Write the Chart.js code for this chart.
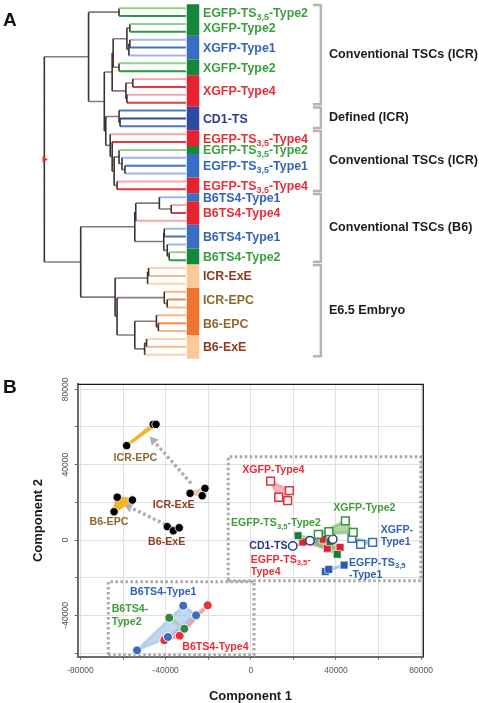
<!DOCTYPE html>
<html>
<head>
<meta charset="utf-8">
<script src="https://cdn.jsdelivr.net/npm/chart.js@4.4.0/dist/chart.umd.min.js"></script>
<style>
  html, body { margin: 0; padding: 0; background: #fff; }
  #wrap { position: relative; width: 479px; height: 703px; overflow: hidden; }
  #tree { position: absolute; left: 0; top: 0; }
  #pca { position: absolute; left: 0; top: 370px; }
</style>
</head>
<body>
<div id="wrap">
  <canvas id="tree" width="479" height="370"></canvas>
  <canvas id="pca" width="479" height="333"></canvas>
</div>
<script>
// ---------- panel A: clustering tree ----------
const groupNames = ['EGFP-TS{3,5}-Type2', 'XGFP-Type2', 'XGFP-Type1', 'XGFP-Type2', 'XGFP-Type4', 'CD1-TS',
  'EGFP-TS{3,5}-Type4', 'EGFP-TS{3,5}-Type2', 'EGFP-TS{3,5}-Type1', 'EGFP-TS{3,5}-Type4',
  'B6TS4-Type1', 'B6TS4-Type4', 'B6TS4-Type1', 'B6TS4-Type2', 'ICR-ExE', 'ICR-EPC', 'B6-EPC', 'B6-ExE'];
const groupSizes = [2, 2, 3, 2, 4, 3, 2, 1, 3, 2, 1, 3, 3, 2, 3, 3, 3, 3];
const groupKinds = ['t2', 't2', 't1', 't2', 't4', 'cd1', 't4', 't2', 't1', 't4', 't1', 't4', 't1', 't2', 'exe', 'epc', 'epc', 'exe'];

const bracketNames = ['Conventional TSCs (ICR)', 'Defined (ICR)', 'Conventional TSCs (ICR)', 'Conventional TSCs (B6)', 'E6.5 Embryo'];
const bracketSizes = [13, 3, 8, 9, 12];

// merges: [child, child, height]; numbers are leaves, 'mK' is merge K
const merges = [
  [0, 1, 6.8],          // m0
  [4, 5, 5.7],          // m1
  ['m1', 6, 5.8],       // m2
  [2, 3, 5.7],          // m3
  ['m3', 'm2', 6.0],    // m4
  [7, 8, 6.8],          // m5
  ['m4', 'm5', 7.4],    // m6
  [9, 10, 5.4],         // m7
  [11, 12, 6.0],        // m8
  ['m7', 'm8', 6.1],    // m9
  ['m6', 'm9', 7.5],    // m10
  [14, 15, 6.7],        // m11
  [13, 'm11', 6.8],     // m12
  [20, 21, 6.2],        // m13
  [19, 'm13', 6.5],     // m14
  [18, 'm14', 6.8],     // m15
  [22, 23, 7.0],        // m16
  ['m15', 'm16', 7.3],  // m17
  [17, 'm17', 7.5],     // m18
  [16, 'm18', 7.7],     // m19
  ['m12', 'm19', 8.15], // m20
  ['m10', 'm20', 8.3],  // m21
  ['m0', 'm21', 9.9],   // m22
  [25, 26, 1.5],        // m23
  [24, 'm23', 2.7],     // m24
  ['m24', 27, 5.1],     // m25
  [28, 29, 2.2],        // m26
  [31, 32, 1.7],        // m27
  [30, 'm27', 1.9],     // m28
  ['m26', 'm28', 2.25], // m29
  ['m25', 'm29', 5.2],  // m30
  [33, 34, 3.8],        // m31
  ['m31', 35, 3.9],     // m32
  [37, 38, 1.9],        // m33
  [36, 'm33', 2.2],     // m34
  [40, 41, 2.8],        // m35
  [39, 'm35', 3.0],     // m36
  [42, 43, 4.0],        // m37
  ['m37', 44, 4.2],     // m38
  ['m36', 'm38', 5.2],  // m39
  ['m34', 'm39', 7.0],  // m40
  ['m32', 'm40', 7.2],  // m41
  ['m30', 'm41', 10.7], // m42
  ['m22', 'm42', 14.4]  // m43 root
];

// ---------- panel B: PCA ----------
const icrEpcC1 = [-45800, -44500, -58300], icrEpcC2 = [61400, 61400, 50100];
const icrExeC1 = [-28500, -21500, -22800], icrExeC2 = [24800, 27400, 23500];
const b6EpcC1 = [-62700, -55600, -64200], b6EpcC2 = [22700, 21200, 15000];
const b6ExeC1 = [-39200, -36400, -33600], b6ExeC2 = [7100, 4900, 6500];
const xgfpT4C1 = [9300, 18100, 13100, 17300], xgfpT4C2 = [31300, 26200, 22700, 20900];
const xgfpT2C1 = [44400, 48100, 36700, 31700], xgfpT2C2 = [10200, 4100, 4400, 3000];
const xgfpT1C1 = [47500, 51600, 57200], xgfpT1C2 = [900, -2300, -1200];
const cd1C1 = [19700, 27800, 38500], cd1C2 = [-3200, -400, 400];
const egfpT2C1 = [22200, 37200, 40600], egfpT2C2 = [2300, -900, -7600];
const egfpT4C1 = [24400, 34000, 35900, 41900], egfpT4C2 = [-1100, 400, -4400, -3900];
const egfpT1C1 = [35000, 36600, 43800], egfpT1C2 = [-16800, -15600, -13300];
const b6t1C1 = [-31700, -25700, -38900, -53400], b6t1C2 = [-34900, -40000, -51500, -58600];
const b6t2C1 = [-38300, -31200], b6t2C2 = [-41300, -47100];
const b6t4C1 = [-20200, -33400, -40600], b6t4C2 = [-34700, -50800, -53200];

const tickStep = 20000, labelStep = 40000;
const arrowPairs = [['ICR-ExE', 'ICR-EPC'], ['B6-ExE', 'B6-EPC']];
// dotted frames: [x from, x to, y from, y to]
const frameRanges = [[-10600, 79800, -21600, 44200], [-66900, 1500, -61000, -22100]];

// ---------- styles ----------
const FONT = '"Liberation Sans", Arial, Helvetica, sans-serif';
Chart.defaults.font.family = FONT;

const kindStyle = {
  t2:  { bar: '#15873a', text: '#3c9f3f', tip: '#2e9943', light: '#93d08c' },
  t1:  { bar: '#3a6ec4', text: '#3565b5', tip: '#4676c0', light: '#9db9e3' },
  t4:  { bar: '#e8232f', text: '#e2303a', tip: '#de3c46', light: '#f5a9ad' },
  cd1: { bar: '#2f4aa3', text: '#2b3c92', tip: '#34479a', light: '#4b78c4' },
  exe: { bar: '#fbc898', text: '#8e3b1f', tip: '#f6b98f', light: '#fbd5b8' },
  epc: { bar: '#f07330', text: '#8c6a2e', tip: '#f08c4a', light: '#f7b888' }
};

function drawRich(ctx, text, x, y, size, align, color) {
  const parts = text.split(/(\{[^}]*\})/).filter(s => s);
  const big = 'bold ' + size + 'px ' + FONT;
  const small = 'bold ' + (size * 0.72) + 'px ' + FONT;
  let w = 0;
  parts.forEach(p => {
    const sub = p[0] === '{';
    ctx.font = sub ? small : big;
    w += ctx.measureText(sub ? p.slice(1, -1) : p).width;
  });
  let cx = align === 'center' ? x - w / 2 : x;
  ctx.fillStyle = color;
  ctx.textAlign = 'left';
  ctx.textBaseline = 'middle';
  parts.forEach(p => {
    const sub = p[0] === '{';
    const t = sub ? p.slice(1, -1) : p;
    ctx.font = sub ? small : big;
    ctx.fillText(t, cx, sub ? y + size * 0.32 : y);
    cx += ctx.measureText(t).width;
  });
}

// ---------- build tree ----------
const leafKind = [], leafPos = [];
const groupFirst = [];
let n = 0;
groupSizes.forEach((s, g) => {
  groupFirst.push(n);
  for (let i = 0; i < s; i++) { leafKind.push(groupKinds[g]); leafPos.push(i); n++; }
});
const nLeaves = n;

const nodeH = {}, nodeY = {};
const ref = c => typeof c === 'number' ? 'L' + c : c;
for (let i = 0; i < nLeaves; i++) { nodeH['L' + i] = 0; nodeY['L' + i] = i; }
merges.forEach((m, k) => {
  nodeH['m' + k] = m[2];
  nodeY['m' + k] = (nodeY[ref(m[0])] + nodeY[ref(m[1])]) / 2;
});

const segs = {};
function addSeg(color, w, x1, y1, x2, y2) {
  const key = color + '|' + w;
  (segs[key] = segs[key] || []).push({ x: x1, y: y1 }, { x: x2, y: y2 }, { x: null, y: null });
}
merges.forEach((m, k) => {
  const h = m[2];
  [m[0], m[1]].forEach(c => {
    const id = ref(c);
    if (typeof c === 'number') {
      const st = kindStyle[leafKind[c]];
      addSeg(leafPos[c] % 2 === 0 ? st.light : st.tip, 2, h, nodeY[id], 0, nodeY[id]);
    } else {
      addSeg('#8c7a76', 1.6, h, nodeY[id], nodeH[id], nodeY[id]);
    }
  });
  addSeg('#3b3232', 1.6, h, nodeY[ref(m[0])], h, nodeY[ref(m[1])]);
});
// colour bar
groupSizes.forEach((s, g) => {
  const f = groupFirst[g];
  addSeg(kindStyle[groupKinds[g]].bar, 12.5, -0.72, f - 0.5, -0.72, f + s - 0.5);
});

const treeSets = Object.keys(segs).map(key => {
  const [color, w] = key.split('|');
  return {
    data: segs[key], borderColor: color, borderWidth: +w, pointRadius: 0,
    borderCapStyle: 'butt', spanGaps: false, fill: false
  };
});
const rootId = 'm' + (merges.length - 1);
treeSets.unshift({
  data: [{ x: nodeH[rootId], y: nodeY[rootId] }], showLine: false,
  pointStyle: 'triangle', pointRotation: 90, pointRadius: 3.5,
  pointBackgroundColor: '#e53030', pointBorderWidth: 0
});

const treeLabels = {
  id: 'treeLabels',
  afterDraw(chart) {
    const ctx = chart.ctx, xs = chart.scales.x, ys = chart.scales.y;
    const base = xs.getPixelForValue(0);
    ctx.save();
    ctx.fillStyle = '#111';
    ctx.font = 'bold 19px ' + FONT;
    ctx.textBaseline = 'top';
    ctx.fillText('A', 3, 11);
    groupNames.forEach((name, g) => {
      const f = groupFirst[g], l = f + groupSizes[g] - 1;
      drawRich(ctx, name, base + 17, ys.getPixelForValue((f + l) / 2) + 1, 12.4, 'left', kindStyle[groupKinds[g]].text);
    });
    let f = 0;
    bracketNames.forEach((name, b) => {
      const l = f + bracketSizes[b] - 1;
      const y1 = ys.getPixelForValue(f - 0.4), y2 = ys.getPixelForValue(l + 0.2);
      ctx.strokeStyle = '#b4b4b4';
      ctx.lineWidth = 2.5;
      ctx.lineJoin = 'round';
      ctx.beginPath();
      ctx.moveTo(base + 127, y1); ctx.lineTo(base + 135, y1);
      ctx.lineTo(base + 135, y2); ctx.lineTo(base + 127, y2);
      ctx.stroke();
      drawRich(ctx, name, base + 143, (y1 + y2) / 2, 12.6, 'left', '#1c1c1c');
      f = l + 1;
    });
    ctx.restore();
  }
};

new Chart(document.getElementById('tree'), {
  type: 'line',
  data: { datasets: treeSets },
  options: {
    responsive: false, animation: false, events: [],
    layout: { padding: 0 },
    plugins: { legend: { display: false }, tooltip: { enabled: false } },
    scales: {
      x: { type: 'linear', display: false, reverse: true, min: -29.4, max: 18.5 },
      y: { type: 'linear', display: false, reverse: true, min: -0.534, max: 45.43 }
    }
  },
  plugins: [treeLabels]
});

// ---------- build PCA ----------
const pcaGroups = [
  { name: 'ICR-EPC', c1: icrEpcC1, c2: icrEpcC2 },
  { name: 'ICR-ExE', c1: icrExeC1, c2: icrExeC2 },
  { name: 'B6-EPC', c1: b6EpcC1, c2: b6EpcC2 },
  { name: 'B6-ExE', c1: b6ExeC1, c2: b6ExeC2 },
  { name: 'XGFP-Type4', c1: xgfpT4C1, c2: xgfpT4C2 },
  { name: 'XGFP-Type2', c1: xgfpT2C1, c2: xgfpT2C2 },
  { name: 'XGFP-Type1', c1: xgfpT1C1, c2: xgfpT1C2 },
  { name: 'CD1-TS', c1: cd1C1, c2: cd1C2 },
  { name: 'EGFP-TS3,5-Type2', c1: egfpT2C1, c2: egfpT2C2 },
  { name: 'EGFP-TS3,5-Type4', c1: egfpT4C1, c2: egfpT4C2 },
  { name: 'EGFP-TS3,5-Type1', c1: egfpT1C1, c2: egfpT1C2 },
  { name: 'B6TS4-Type1', c1: b6t1C1, c2: b6t1C2 },
  { name: 'B6TS4-Type2', c1: b6t2C1, c2: b6t2C2 },
  { name: 'B6TS4-Type4', c1: b6t4C1, c2: b6t4C2 }
];

const RED = '#e2303a', GREEN = '#3f9d3c', BLUE = '#2f63b3', DARK = '#27388c', BROWN = '#8e3b1f', OLIVE = '#8c6a2e';
const markStyle = {
  'ICR-EPC': { shape: 'circle', r: 4.2, fill: '#000', stroke: '#fff', bw: 0.8, hull: '#f5b325' },
  'ICR-ExE': { shape: 'circle', r: 4.2, fill: '#000', stroke: '#fff', bw: 0.8, hull: '#f3c3ae' },
  'B6-EPC': { shape: 'circle', r: 4.2, fill: '#000', stroke: '#fff', bw: 0.8, hull: '#f5b325' },
  'B6-ExE': { shape: 'circle', r: 4.2, fill: '#000', stroke: '#fff', bw: 0.8, hull: '#f3c3ae' },
  'XGFP-Type4': { shape: 'rect', r: 5.5, fill: '#fff', stroke: '#e3323c', bw: 1.5, hull: 'rgba(240,140,150,0.6)' },
  'XGFP-Type2': { shape: 'rect', r: 5.5, fill: '#fff', stroke: '#3a8f45', bw: 1.5, hull: 'rgba(120,190,110,0.6)' },
  'XGFP-Type1': { shape: 'rect', r: 5.5, fill: '#fff', stroke: '#3a6cc0', bw: 1.5, hull: 'rgba(140,175,225,0.6)' },
  'CD1-TS': { shape: 'circle', r: 4.2, fill: '#fff', stroke: '#2a3d8f', bw: 1.5, hull: 'rgba(120,140,200,0.3)' },
  'EGFP-TS3,5-Type2': { shape: 'rect', r: 5.5, fill: '#1e7a3a', stroke: '#fff', bw: 0.6, hull: 'rgba(120,190,110,0.6)' },
  'EGFP-TS3,5-Type4': { shape: 'rect', r: 5.5, fill: '#e02030', stroke: '#fff', bw: 0.6, hull: 'rgba(240,140,150,0.6)' },
  'EGFP-TS3,5-Type1': { shape: 'rect', r: 5.5, fill: '#2a5cb0', stroke: '#fff', bw: 0.6, hull: 'rgba(140,175,225,0.6)' },
  'B6TS4-Type1': { shape: 'circle', r: 4.5, fill: '#3a6cc0', stroke: '#fff', bw: 1, hull: 'rgba(170,198,232,0.7)' },
  'B6TS4-Type2': { shape: 'circle', r: 4.5, fill: '#2e8a3e', stroke: '#fff', bw: 1, hull: 'rgba(150,205,140,0.8)' },
  'B6TS4-Type4': { shape: 'circle', r: 4.5, fill: '#e8303a', stroke: '#fff', bw: 1, hull: 'rgba(240,150,160,0.8)' }
};

// text notes: [text, component 1, component 2, align, colour]
const pcaNotes = [
  ['ICR-EPC', -54200, 43700, 'center', OLIVE],
  ['ICR-ExE', -36200, 18600, 'center', BROWN],
  ['B6-EPC', -66600, 9400, 'center', OLIVE],
  ['B6-ExE', -39500, -1200, 'center', BROWN],
  ['XGFP-Type4', 10600, 37200, 'center', RED],
  ['XGFP-Type2', 53300, 16800, 'center', GREEN],
  ['EGFP-TS{3,5}-Type2', 11800, 8900, 'center', GREEN],
  ['XGFP-\nType1', 61000, 5300, 'left', BLUE],
  ['CD1-TS', -700, -3200, 'left', DARK],
  ['EGFP-TS{3,5}-\nType4', 0, -10600, 'left', RED],
  ['EGFP-TS{3,5}\n-Type1', 46100, -12100, 'left', BLUE],
  ['B6TS4-Type1', -41100, -27400, 'center', BLUE],
  ['B6TS4-\nType2', -65300, -36800, 'left', GREEN],
  ['B6TS4-Type4', -16600, -56600, 'center', RED]
];

function hull(pts) {
  const p = pts.slice().sort((a, b) => a.x - b.x || a.y - b.y);
  if (p.length < 3) return p;
  const cross = (o, a, b) => (a.x - o.x) * (b.y - o.y) - (a.y - o.y) * (b.x - o.x);
  const lo = [], up = [];
  for (const q of p) { while (lo.length >= 2 && cross(lo[lo.length - 2], lo[lo.length - 1], q) <= 0) lo.pop(); lo.push(q); }
  for (const q of p.slice().reverse()) { while (up.length >= 2 && cross(up[up.length - 2], up[up.length - 1], q) <= 0) up.pop(); up.push(q); }
  lo.pop(); up.pop();
  return lo.concat(up);
}
const centroid = g => ({
  x: g.c1.reduce((a, b) => a + b, 0) / g.c1.length,
  y: g.c2.reduce((a, b) => a + b, 0) / g.c2.length
});

const pcaSets = [];
pcaGroups.forEach(g => {
  const st = markStyle[g.name];
  const pts = g.c1.map((x, i) => ({ x: x, y: g.c2[i] }));
  pcaSets.push({
    data: pts, showLine: false, order: 0,
    pointStyle: st.shape, pointRadius: st.r,
    pointBackgroundColor: st.fill, pointBorderColor: st.stroke, pointBorderWidth: st.bw
  });
  const h = hull(pts);
  pcaSets.push({
    data: h.concat([h[0]]), order: 1, pointRadius: 0,
    fill: 'shape', backgroundColor: st.hull, borderColor: st.hull, borderWidth: 3,
    borderJoinStyle: 'round', tension: 0
  });
});
arrowPairs.forEach(([from, to]) => {
  const a = centroid(pcaGroups.find(g => g.name === from));
  const b = centroid(pcaGroups.find(g => g.name === to));
  const p1 = { x: a.x + (b.x - a.x) * 0.15, y: a.y + (b.y - a.y) * 0.15 };
  const p2 = { x: a.x + (b.x - a.x) * 0.85, y: a.y + (b.y - a.y) * 0.85 };
  pcaSets.push({
    data: [p1, p2], order: 2, borderColor: '#b0b0b0', borderWidth: 3.5, borderDash: [3, 2.5],
    pointRadius: [0, 5.5], pointStyle: 'triangle', pointBackgroundColor: '#b0b0b0', pointBorderWidth: 0,
    pointRotation: ctx => {
      const s = ctx.chart.scales;
      const dx = s.x.getPixelForValue(p2.x) - s.x.getPixelForValue(p1.x);
      const dy = s.y.getPixelForValue(p2.y) - s.y.getPixelForValue(p1.y);
      return Math.atan2(dx, -dy) * 180 / Math.PI;
    }
  });
});
frameRanges.forEach(([x1, x2, y1, y2]) => {
  pcaSets.push({
    data: [{ x: x1, y: y1 }, { x: x2, y: y1 }, { x: x2, y: y2 }, { x: x1, y: y2 }, { x: x1, y: y1 }],
    order: 3, borderColor: '#a9a9a9', borderWidth: 3, borderDash: [2.5, 2.5], pointRadius: 0, fill: false
  });
});

// regular ticks every tickStep inside the axis range
function stepTicks(s) {
  const ticks = [];
  for (let v = Math.ceil(s.min / tickStep) * tickStep; v <= s.max; v += tickStep) ticks.push({ value: v });
  s.ticks = ticks;
}

const pcaDecor = {
  id: 'pcaDecor',
  afterDraw(chart) {
    const ctx = chart.ctx, a = chart.chartArea, xs = chart.scales.x, ys = chart.scales.y;
    ctx.save();
    ctx.strokeStyle = '#1a1a1a';
    ctx.lineWidth = 1.3;
    ctx.beginPath();
    ctx.moveTo(a.left, a.top); ctx.lineTo(a.right, a.top); ctx.lineTo(a.right, a.bottom);
    ctx.stroke();
    // tick labels
    ctx.fillStyle = '#555';
    ctx.font = '8.5px ' + FONT;
    ctx.textAlign = 'center';
    ctx.textBaseline = 'middle';
    xs.ticks.forEach(t => {
      if (Math.abs(t.value % labelStep) > 1e-6) return;
      ctx.fillText(String(t.value), xs.getPixelForValue(t.value), a.bottom + 13.5);
    });
    ys.ticks.forEach(t => {
      if (Math.abs(t.value % labelStep) > 1e-6) return;
      ctx.save();
      ctx.translate(a.left - 12.5, ys.getPixelForValue(t.value));
      ctx.rotate(-Math.PI / 2);
      ctx.fillText(String(t.value), 0, 0);
      ctx.restore();
    });
    ctx.fillStyle = '#111';
    ctx.font = 'bold 19px ' + FONT;
    ctx.textAlign = 'left';
    ctx.textBaseline = 'top';
    ctx.fillText('B', 3, 8);
    pcaNotes.forEach(([text, x, y, align, color]) => {
      const px = xs.getPixelForValue(x), py = ys.getPixelForValue(y);
      text.split('\n').forEach((line, i) => drawRich(ctx, line, px, py + i * 12.5, 10.6, align, color));
    });
    ctx.restore();
  }
};

new Chart(document.getElementById('pca'), {
  type: 'line',
  data: { datasets: pcaSets },
  options: {
    responsive: false, animation: false, events: [],
    layout: { padding: { top: 14.3, right: 55.7, left: 0, bottom: 0 } },
    plugins: { legend: { display: false }, tooltip: { enabled: false } },
    scales: {
      x: {
        type: 'linear', min: -81270, max: 80990,
        afterBuildTicks: stepTicks,
        afterFit: s => { s.height = 46.3; },
        ticks: { display: false },
        grid: { color: '#e0e0e0', lineWidth: 1, tickColor: '#666', tickLength: 3 },
        border: { display: true, color: '#6b6b6b', width: 2 },
        title: { display: true, text: 'Component 1', color: '#1a1a1a', font: { size: 13, weight: 'bold', lineHeight: 1 }, padding: { top: 0, bottom: 0 } }
      },
      y: {
        type: 'linear', min: -61950, max: 82660,
        afterBuildTicks: stepTicks,
        afterFit: s => { s.width = 77.7; },
        ticks: { display: false },
        grid: { color: '#e0e0e0', lineWidth: 1, tickColor: '#666', tickLength: 3 },
        border: { display: true, color: '#6b6b6b', width: 2 },
        title: { display: true, text: 'Component 2', color: '#1a1a1a', font: { size: 13, weight: 'bold', lineHeight: 1 }, padding: { top: 31.5, bottom: 0 } }
      }
    }
  },
  plugins: [pcaDecor]
});
</script>
</body>
</html>
